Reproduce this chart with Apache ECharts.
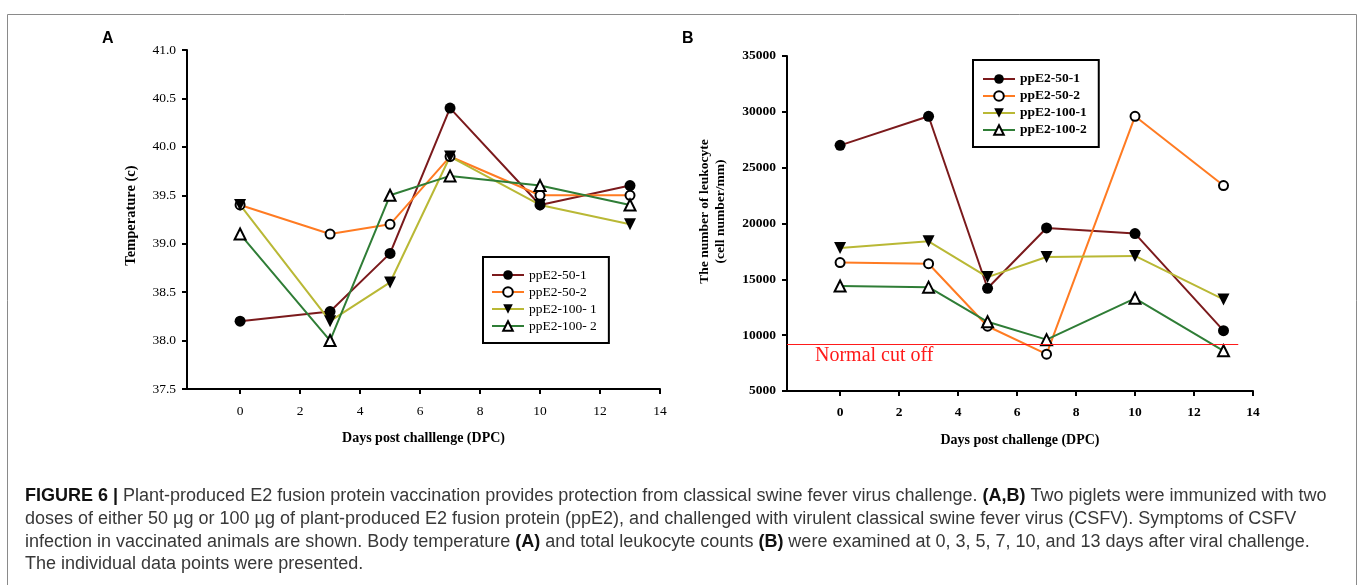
<!DOCTYPE html>
<html>
<head>
<meta charset="utf-8">
<script src="https://cdn.jsdelivr.net/npm/echarts@6/dist/echarts.min.js"></script>
<style>
html,body{margin:0;padding:0;background:#fff;}
#chart{width:1360px;height:585px;}
</style>
</head>
<body>
<div id="chart"></div>
<script>
// ---------- data ----------
const days = [0, 3, 5, 7, 10, 13];
const xTicks = [0, 2, 4, 6, 8, 10, 12, 14];

// Panel A: body temperature
const tempNames = ['ppE2-50-1', 'ppE2-50-2', 'ppE2-100- 1', 'ppE2-100- 2'];
const temp50_1  = [38.2, 38.3, 38.9, 40.4, 39.4, 39.6];
const temp50_2  = [39.4, 39.1, 39.2, 39.9, 39.5, 39.5];
const temp100_1 = [39.4, 38.2, 38.6, 39.9, 39.4, 39.2];
const temp100_2 = [39.1, 38.0, 39.5, 39.7, 39.6, 39.4];

// Panel B: leukocyte counts
const wbcNames = ['ppE2-50-1', 'ppE2-50-2', 'ppE2-100-1', 'ppE2-100-2'];
const wbc50_1  = [27000, 29600, 14200, 19600, 19100, 10400];
const wbc50_2  = [16500, 16400, 10800, 8300, 29600, 23400];
const wbc100_1 = [17800, 18400, 15200, 17000, 17100, 13200];
const wbc100_2 = [14400, 14300, 11200, 9600, 13300, 8600];
const cutoffValue = 9200;
const cutoffSpan = [-1.8, 13.5];
const cutoffLabel = 'Normal cut off';

// ---------- styles ----------
const lineColors = ['#7b1a1c', '#ff7b22', '#b9b835', '#2f7d36'];
const markers = [
  { symbol: 'circle', symbolSize: 11, symbolRotate: 0, itemStyle: { color: '#000', borderColor: '#000', borderWidth: 0 } },
  { symbol: 'circle', symbolSize: 9, symbolRotate: 0, itemStyle: { color: '#fff', borderColor: '#000', borderWidth: 2 } },
  { symbol: 'triangle', symbolSize: 12, symbolRotate: 180, itemStyle: { color: '#000', borderColor: '#000', borderWidth: 0 } },
  { symbol: 'triangle', symbolSize: 11, symbolRotate: 0, itemStyle: { color: '#fff', borderColor: '#000', borderWidth: 2 } }
];
const serif = '"Liberation Serif", "Times New Roman", serif';
const sans = '"Liberation Sans", Arial, sans-serif';

function pairs(vals) { return days.map((d, i) => [d, vals[i]]); }

function makeSeries(names, arrays, axisIdx) {
  return names.map((n, i) => ({
    name: n,
    type: 'line',
    xAxisIndex: axisIdx,
    yAxisIndex: axisIdx,
    data: pairs(arrays[i]),
    symbol: markers[i].symbol,
    symbolSize: markers[i].symbolSize,
    symbolRotate: markers[i].symbolRotate,
    showAllSymbol: true,
    itemStyle: markers[i].itemStyle,
    lineStyle: { color: lineColors[i], width: 2 },
    color: lineColors[i],
    emphasis: { disabled: true }
  }));
}

const seriesA = makeSeries(tempNames, [temp50_1, temp50_2, temp100_1, temp100_2], 0);
const seriesB = makeSeries(wbcNames, [wbc50_1, wbc50_2, wbc100_1, wbc100_2], 1);

const cutoffSeries = {
  name: 'cutoff',
  type: 'line',
  xAxisIndex: 1,
  yAxisIndex: 1,
  data: [],
  silent: true,
  markLine: {
    silent: true,
    symbol: 'none',
    animation: false,
    lineStyle: { color: '#ff1a1a', width: 1, type: 'solid' },
    label: {
      show: true,
      position: 'insideStartBottom',
      formatter: cutoffLabel,
      color: '#ff1a1a',
      fontFamily: serif,
      fontSize: 20,
      distance: [28, 2]
    },
    data: [[{ coord: [cutoffSpan[0], cutoffValue] }, { coord: [cutoffSpan[1], cutoffValue] }]]
  }
};

function xAxisCfg(idx, min, name) {
  return {
    type: 'value', gridIndex: idx, min: min, max: 14,
    name: name, nameLocation: 'middle', nameGap: 42,
    nameTextStyle: { fontFamily: serif, fontWeight: 'bold', fontSize: 14, color: '#000' },
    axisLine: { onZero: false, lineStyle: { color: '#000', width: 2 } },
    axisTick: { show: true, length: 5, lineStyle: { color: '#000', width: 2 }, customValues: xTicks },
    axisLabel: { fontFamily: serif, fontSize: 13.5, color: '#000', margin: 15,
                 fontWeight: idx === 1 ? 'bold' : 'normal', customValues: xTicks },
    splitLine: { show: false }
  };
}

const option = {
  animation: false,
  backgroundColor: '#fff',
  grid: [
    { left: 187, top: 50, width: 473, height: 339 },
    { left: 787, top: 56, width: 466, height: 335 }
  ],
  xAxis: [
    xAxisCfg(0, -1.77, 'Days post challlenge (DPC)'),
    xAxisCfg(1, -1.8, 'Days post challenge (DPC)')
  ],
  yAxis: [
    {
      type: 'value', gridIndex: 0, min: 37.5, max: 41, interval: 0.5,
      name: 'Temperature (c)', nameLocation: 'middle', nameGap: 48,
      nameTextStyle: { fontFamily: serif, fontWeight: 'bold', fontSize: 14.5, color: '#000', padding: [0, 0, 0, 8] },
      axisLine: { show: true, onZero: false, lineStyle: { color: '#000', width: 2 } },
      axisTick: { show: true, length: 5, lineStyle: { color: '#000', width: 2 } },
      axisLabel: { fontFamily: serif, fontSize: 13.5, color: '#000', margin: 11,
                   formatter: v => v.toFixed(1) },
      splitLine: { show: false }
    },
    {
      type: 'value', gridIndex: 1, min: 5000, max: 35000, interval: 5000,
      name: 'The number of leukocyte\n(cell number/mm)', nameLocation: 'middle', nameGap: 58,
      nameTextStyle: { fontFamily: serif, fontWeight: 'bold', fontSize: 13.5, color: '#000', lineHeight: 16, padding: [0, 0, 0, 24] },
      axisLine: { show: true, onZero: false, lineStyle: { color: '#000', width: 2 } },
      axisTick: { show: true, length: 5, lineStyle: { color: '#000', width: 2 } },
      axisLabel: { fontFamily: serif, fontSize: 13.5, fontWeight: 'bold', color: '#000', margin: 11,
                   formatter: v => String(v) },
      splitLine: { show: false }
    }
  ],
  legend: [
    {
      data: tempNames, orient: 'vertical', left: 483, top: 257,
      padding: [11, 12, 10, 8], itemGap: 3, itemWidth: 32, itemHeight: 12,
      borderColor: '#000', borderWidth: 2, backgroundColor: '#fff',
      textStyle: { fontFamily: serif, fontSize: 13.5, color: '#000' },
      selectedMode: false
    },
    {
      data: wbcNames, orient: 'vertical', left: 973, top: 60,
      padding: [12, 12, 10, 9], itemGap: 3, itemWidth: 32, itemHeight: 12,
      borderColor: '#000', borderWidth: 2, backgroundColor: '#fff',
      textStyle: { fontFamily: serif, fontSize: 13.5, fontWeight: 'bold', color: '#000' },
      selectedMode: false
    }
  ],
  graphic: [
    { type: 'rect', shape: { x: 7.5, y: 14.5, width: 1349, height: 620 }, style: { fill: 'none', stroke: '#8a8a8a', lineWidth: 1 }, silent: true, z: -10 },
    { type: 'text', left: 102, top: 31, style: { text: 'A', font: 'bold 16px "Liberation Sans", Arial, sans-serif', fill: '#000' } },
    { type: 'text', left: 682, top: 31, style: { text: 'B', font: 'bold 16px "Liberation Sans", Arial, sans-serif', fill: '#000' } },
    {
      type: 'text', left: 25, top: 485,
      style: {
        text: '{b|FIGURE 6 |} Plant-produced E2 fusion protein vaccination provides protection from classical swine fever virus challenge. {b|(A,B)} Two piglets were immunized with two\n' +
              'doses of either 50 \u00b5g or 100 \u00b5g of plant-produced E2 fusion protein (ppE2), and challenged with virulent classical swine fever virus (CSFV). Symptoms of CSFV\n' +
              'infection in vaccinated animals are shown. Body temperature {b|(A)} and total leukocyte counts {b|(B)} were examined at 0, 3, 5, 7, 10, and 13 days after viral challenge.\n' +
              'The individual data points were presented.',
        fontFamily: sans,
        fontSize: 18,
        lineHeight: 22.7,
        fill: '#383838',
        rich: {
          b: { fontFamily: sans, fontSize: 18, fontWeight: 'bold', fill: '#111', lineHeight: 22.7 }
        }
      }
    }
  ],
  series: seriesA.concat(seriesB).concat([cutoffSeries])
};

const chart = echarts.init(document.getElementById('chart'), null, { renderer: 'canvas' });
chart.setOption(option);
</script>
</body>
</html>
